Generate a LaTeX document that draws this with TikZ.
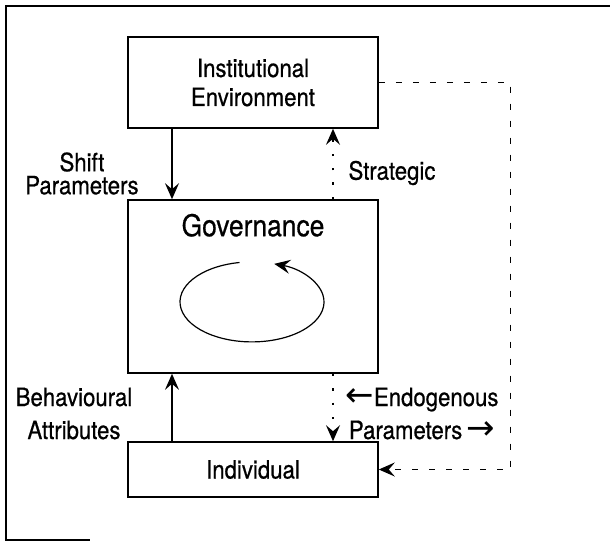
\documentclass[tikz,border=0pt]{standalone}
\usepackage{fontspec}
\setmainfont{TeX Gyre Heros}[FakeStretch=0.88,FakeBold=0.6]
\newfontfamily\arrowfont{DejaVu Sans}
\usetikzlibrary{positioning,arrows.meta}

\tikzset{
  box/.style={draw, line width=0.8pt, minimum width=125pt, inner sep=0pt, align=center},
  lbl/.style={inner sep=0pt, align=center},
  tip/.style={-{Stealth[length=8pt,width=7pt,inset=3pt]}},
  loopdash/.style={dash pattern=on 3pt off 5.5pt, line width=0.6pt},
  dotdash/.style={dash pattern=on 1.2pt off 6pt, line width=0.6pt}
}
\newcommand{\txtarrow}[1]{{\arrowfont\fontsize{17}{16.5}\selectfont #1}}

\begin{document}
\begin{tikzpicture}[x=0.5pt,y=0.5pt,on grid,line width=0.6pt]
  \useasboundingbox (0,0) rectangle (610,-546);
  \draw[line width=1pt] (610,-6) -- (6,-6) -- (6,-540) -- (90,-540);

  \node[box, minimum height=45.5pt, font=\fontsize{12.6}{14.5}\selectfont] (inst) at (253,-82.5) {Institutional\\Environment};
  \node[box, minimum height=86.5pt] (gov) [below=102pt of inst] {};
  \node[box, minimum height=27.5pt, font=\fontsize{12.6}{14}\selectfont] (indiv) [below=91.5pt of gov] {Individual};
  \node[lbl, font=\fontsize{15}{16}\selectfont] (govtext) [below=7pt of gov.north] {Governance};

  % cycle inside governance
  \draw[tip] ([shift={(-13.5,24)}]gov.center) arc[start angle=100, end angle=432, x radius=72, y radius=40];

  \draw[tip] ([xshift=-40.5pt]inst.south) -- ([xshift=-40.5pt]gov.north);
  \draw[tip, dotdash] ([xshift=40pt]gov.north) -- ([xshift=40pt]inst.south);
  \draw[tip] ([xshift=-40.5pt]indiv.north) -- ([xshift=-40.5pt]gov.south);
  \draw[tip, dotdash] ([xshift=40pt]gov.south) -- ([xshift=40pt]indiv.north);
  \draw[tip, loopdash] (inst.east) -- ++(66pt,0) |- (indiv.east);

  \node[lbl, font=\fontsize{12.6}{11.5}\selectfont] (shift) at (82,-173.5) {Shift\\Parameters};
  \node[lbl, font=\fontsize{12.6}{14}\selectfont] (strat) at (392,-173) {Strategic};
  \node[lbl, font=\fontsize{12.6}{16.5}\selectfont] (behav) at (74,-413.5) {Behavioural\\Attributes};
  \node[lbl, font=\fontsize{12.6}{16.5}\selectfont] (endog) at (422,-413.5) {\txtarrow{←}Endogenous\\Parameters\,\txtarrow{→}};
\end{tikzpicture}
\end{document}
